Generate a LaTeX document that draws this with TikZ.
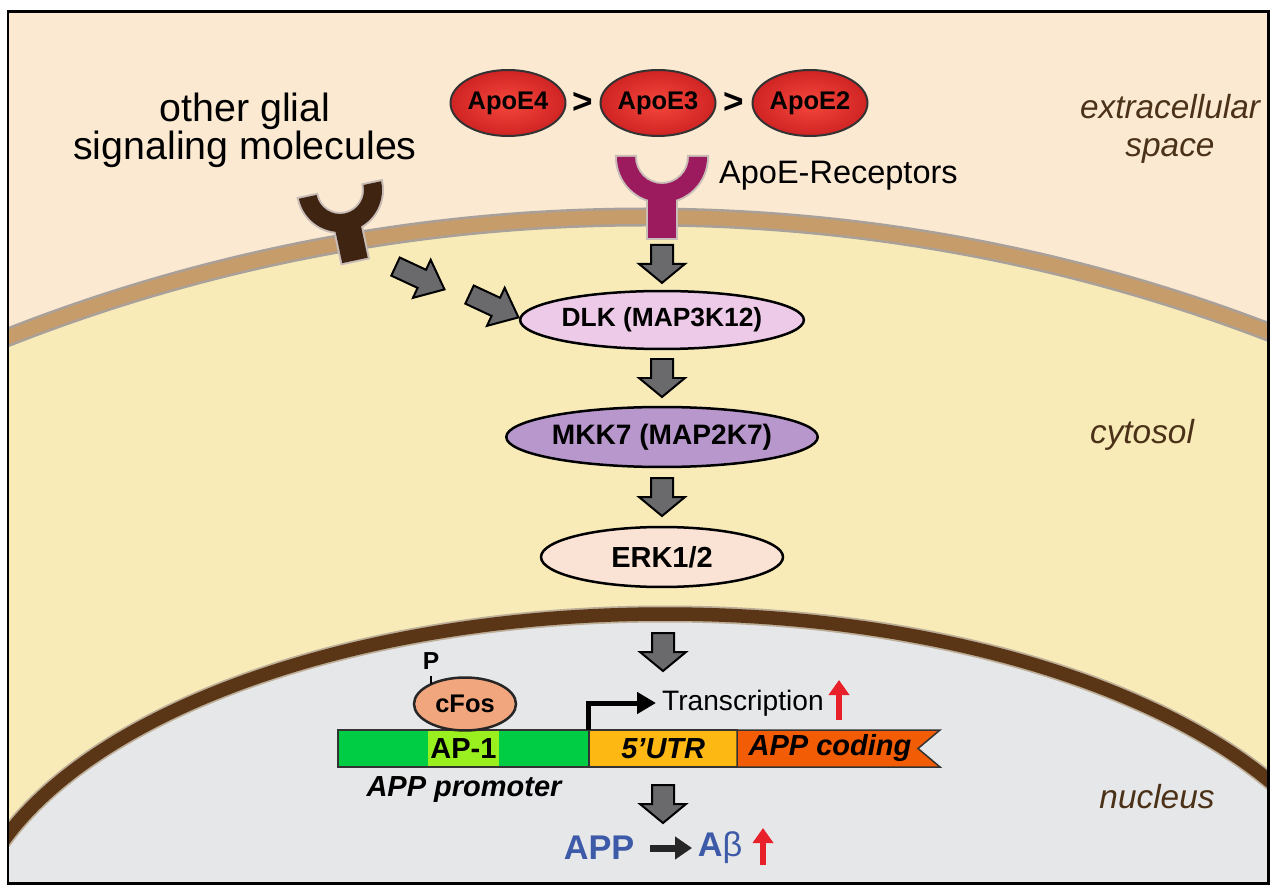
\documentclass[tikz,border=0pt]{standalone}
\usepackage{fontspec}
\setmainfont{Liberation Sans}
\usetikzlibrary{shapes.geometric,arrows.meta,calc}
\definecolor{extra}{HTML}{FCE9D2}
\definecolor{cyto}{HTML}{F8EBB8}
\definecolor{memtan}{HTML}{C79C6B}
\definecolor{memedge}{HTML}{A9A199}
\definecolor{nucfill}{HTML}{E6E7E9}
\definecolor{nucbrown}{HTML}{5B3616}
\definecolor{nucedge}{HTML}{BCAE98}
\definecolor{lbl}{HTML}{4A3118}
\definecolor{apoein}{HTML}{F5473C}
\definecolor{apoeout}{HTML}{D02424}
\definecolor{purp}{HTML}{9C1A5E}
\definecolor{darkrec}{HTML}{3E2411}
\definecolor{recedge}{HTML}{C9BDB8}
\definecolor{arrgray}{HTML}{6A6A6C}
\definecolor{dlkc}{HTML}{EDCBE8}
\definecolor{mkkc}{HTML}{B897CC}
\definecolor{erkc}{HTML}{FAE3D4}
\definecolor{cfosc}{HTML}{F2A67E}
\definecolor{promc}{HTML}{00CC44}
\definecolor{ap1c}{HTML}{99F01E}
\definecolor{utrc}{HTML}{FDB813}
\definecolor{codc}{HTML}{F25C05}
\definecolor{bluet}{HTML}{3D5AA8}
\definecolor{redar}{HTML}{E8202A}
\tikzset{
  arrfill/.style={fill=arrgray, draw=black, line width=0.04cm, line join=miter},
  fatarr/.pic={\draw[arrfill] (-11,-19) -- (11,-19) -- (11,0) -- (23,0) -- (0,19) -- (-23,0) -- (-11,0) -- cycle;},
  fatarrd/.pic={\draw[arrfill] (-10,-27) -- (10,-27) -- (10,2) -- (21,2) -- (0,27) -- (-21,2) -- (-10,2) -- cycle;},
  kin/.style={ellipse, draw=black, line width=0.05cm, minimum width=4.84cm, minimum height=1.16cm, inner sep=0pt, font=\bfseries\fontsize{15}{18}\selectfont},
  apoe/.style={ellipse, draw=black!80, line width=0.04cm, shading=radial, inner color=apoein, outer color=apoeout, minimum width=2.3cm, minimum height=1.32cm, inner sep=0pt, font=\bfseries\fontsize{14.5}{16}\selectfont},
  region/.style={font=\itshape\fontsize{19}{22}\selectfont, text=lbl, anchor=base},
  seg/.style={draw=black!80, line width=0.03cm, minimum height=0.74cm, inner sep=0pt, anchor=west},
  gtext/.style={font=\bfseries\itshape\fontsize{16.5}{19}\selectfont},
  redarrow/.style={draw=redar, line width=0.13cm, -{Triangle[length=0.3cm,width=0.4cm]}},
  blkarrow/.style={draw=black!85, line width=0.14cm, -{Triangle[length=0.34cm,width=0.44cm]}, shorten <=0.2cm, shorten >=0.04cm},
}
\begin{document}
\begin{tikzpicture}[x=0.02cm,y=-0.02cm]
\useasboundingbox (0,0) rectangle (1281,888);
\fill[white] (0,0) rectangle (1281,888);
\begin{scope}
  \clip (8,12) rectangle (1268,883);
  \fill[extra] (8,12) rectangle (1268,883);
  \fill[cyto] (645,1958) circle[radius=1741];
  \draw[line width=0.38cm, memedge] (645,1958) circle[radius=1741];
  \draw[line width=0.28cm, memtan] (645,1958) circle[radius=1741];
  \fill[nucfill] (665,951) ellipse[x radius=700, y radius=337];
  \draw[line width=0.34cm, nucedge] (665,951) ellipse[x radius=700, y radius=337];
  \draw[line width=0.27cm, nucbrown] (665,951) ellipse[x radius=700, y radius=337];
\end{scope}
\draw[line width=0.06cm] (8,12) rectangle (1268,883);

% region labels
\node[region] (extra1) at (1170,119) {extracellular};
\node[region] (extra2) at (1170,157) {space};
\node[region] (cyto) at (1142,443) {cytosol};
\node[region] (nuc) at (1157,808) {nucleus};

% other glial label
\node[anchor=base, font=\fontsize{22.4}{24}\selectfont] (glial1) at (245,122) {other glial};
\node[anchor=base, font=\fontsize{22.4}{24}\selectfont] (glial2) at (245,160) {signaling molecules};

% ApoE
\node[apoe] (e4) at (508,103) {ApoE4};
\node[apoe] (e3) at (658,103) {ApoE3};
\node[apoe] (e2) at (810,103) {ApoE2};
\node[font=\bfseries\fontsize{20}{22}\selectfont] (gt1) at ($(e4.east)!0.5!(e3.west)$) {>};
\node[font=\bfseries\fontsize{20}{22}\selectfont] (gt2) at ($(e3.east)!0.5!(e2.west)$) {>};

% ApoE receptor
\begin{scope}[shift={(662,157)}]
  \draw[recedge, line width=0.08cm] (-45,0) arc[start angle=180, end angle=0, radius=45] -- (27,0) arc[start angle=0, end angle=180, radius=27] -- cycle;
  \draw[recedge, line width=0.08cm] (-14,38) rectangle (14,81);
  \fill[purp] (-45,0) arc[start angle=180, end angle=0, radius=45] -- (27,0) arc[start angle=0, end angle=180, radius=27] -- cycle;
  \fill[purp] (-14,38) rectangle (14,81);
  \coordinate (rec) at (0,81);
\end{scope}
\node[anchor=west, font=\fontsize{18.5}{20}\selectfont] (reclbl) at (713,176) {ApoE-Receptors};

% other receptor
\begin{scope}[shift={(340,190)}, rotate=12]
  \draw[recedge, line width=0.08cm] (-42,0) arc[start angle=180, end angle=0, radius=42] -- (24,0) arc[start angle=0, end angle=180, radius=24] -- cycle;
  \draw[recedge, line width=0.08cm] (-13,34) rectangle (13,72);
  \fill[darkrec] (-42,0) arc[start angle=180, end angle=0, radius=42] -- (24,0) arc[start angle=0, end angle=180, radius=24] -- cycle;
  \fill[darkrec] (-13,34) rectangle (13,72);
  \coordinate (orec) at (0,72);
\end{scope}

% kinase cascade
\node[kin, fill=dlkc] (dlk) at (662,320) {DLK (MAP3K12)};
\node[kin, fill=mkkc, minimum height=1.2cm, font=\bfseries\fontsize{16}{18}\selectfont] (mkk) at (662,437) {MKK7 (MAP2K7)};
\node[kin, fill=erkc, minimum height=1.2cm, font=\bfseries\fontsize{16.5}{18}\selectfont] (erk) at (662,557) {ERK1/2};

\pic at ($(rec)!0.5!(dlk.north)$) {fatarr};
\pic at ($(dlk.south)!0.5!(mkk.north)$) {fatarr};
\pic at ($(mkk.south)!0.5!(erk.north)$) {fatarr};
\pic[rotate=65] at (420,278) {fatarrd};
\pic[rotate=65] at (494,306) {fatarrd};

% gene
\node[seg, fill=promc, minimum width=5.02cm] (prom) at (337,748.5) {};
\node[fill=ap1c, minimum width=1.42cm, minimum height=0.7cm, inner sep=0pt, font=\bfseries\fontsize{16.5}{18}\selectfont] (ap1) at (463.5,748.5) {AP-1};
\node[seg, fill=utrc, minimum width=2.98cm, gtext] (utr) at (588,748.5) {5'UTR};
\draw[draw=black!80, line width=0.03cm, fill=codc] (737,730) -- (940,730) -- (918,748.5) -- (940,767) -- (737,767) -- cycle;
\node[gtext] (cod) at (830,748.5) {APP coding};
\node[gtext] (promlbl) at (464,790) {APP promoter};

\node[ellipse, draw=black!85, line width=0.05cm, fill=cfosc, minimum width=2.04cm, minimum height=1.06cm, inner sep=0pt, font=\bfseries\fontsize{14.5}{16}\selectfont] (cfos) at (465,704) {cFos};
\node[font=\bfseries\fontsize{14}{16}\selectfont] (p) at (431,661) {P};
\draw[line width=0.03cm] (p.south) -- (431,684);

\pic at (663,652) {fatarr};
\coordinate (tss) at (588,730);
\node[anchor=west, font=\fontsize{16}{18}\selectfont] (trans) at (656,703) {Transcription};
\draw[line width=0.1cm, -{Triangle[length=0.38cm,width=0.42cm]}] (tss) |- (trans.west);
\coordinate (ra1) at (839,720);
\coordinate (ra2) at (839,680);
\draw[redarrow] (ra1) -- (ra2);

\pic at (663,804) {fatarr};
\node[font=\bfseries\fontsize{19.5}{22}\selectfont, text=bluet] (app) at (599,848) {APP};
\node[anchor=west, font=\fontsize{19.5}{22}\selectfont, text=bluet, inner sep=2pt] (ab) at (694,848) {\textbf{A}β};
\draw[blkarrow] (app.east) -- (ab.west);
\coordinate (rb1) at (763,865);
\coordinate (rb2) at (763,828);
\draw[redarrow] (rb1) -- (rb2);
\end{tikzpicture}
\end{document}
